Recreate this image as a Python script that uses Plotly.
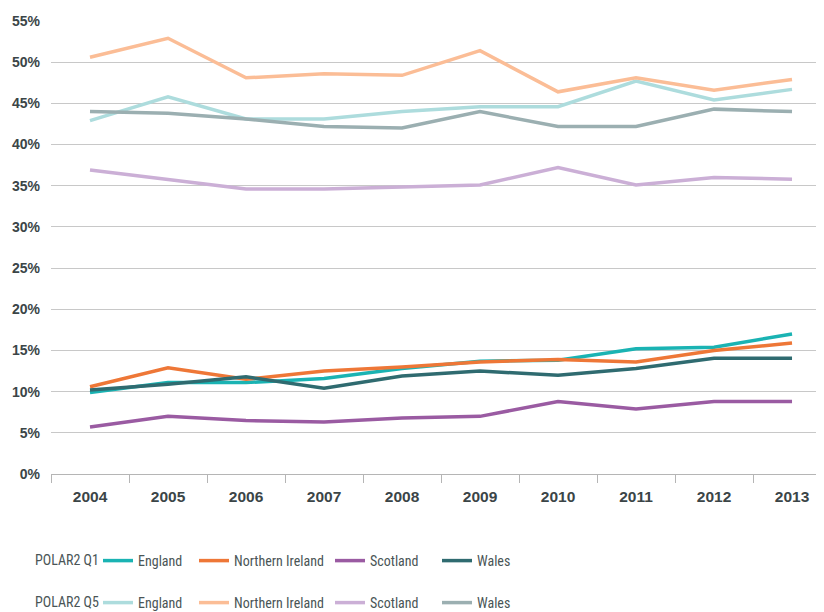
import plotly.graph_objects as go

years = ["2004", "2005", "2006", "2007", "2008", "2009", "2010", "2011", "2012", "2013"]

q1_england = [9.9, 11.1, 11.1, 11.6, 12.8, 13.7, 13.8, 15.2, 15.4, 17.0]
q1_ni = [10.6, 12.9, 11.5, 12.5, 13.0, 13.6, 13.9, 13.6, 15.0, 15.9]
q1_scotland = [5.7, 7.0, 6.5, 6.3, 6.8, 7.0, 8.8, 7.9, 8.8, 8.8]
q1_wales = [10.2, 10.9, 11.8, 10.4, 11.9, 12.5, 12.0, 12.8, 14.05, 14.05]

q5_england = [42.9, 45.8, 43.1, 43.1, 44.0, 44.6, 44.6, 47.7, 45.4, 46.7]
q5_ni = [50.6, 52.9, 48.1, 48.6, 48.4, 51.4, 46.4, 48.1, 46.6, 47.9]
q5_scotland = [36.9, 35.8, 34.6, 34.6, 34.9, 35.1, 37.2, 35.1, 36.0, 35.8]
q5_wales = [44.0, 43.8, 43.1, 42.2, 42.0, 44.0, 42.2, 42.2, 44.3, 44.0]

nations = ["England", "Northern Ireland", "Scotland", "Wales"]
q1_series = [q1_england, q1_ni, q1_scotland, q1_wales]
q5_series = [q5_england, q5_ni, q5_scotland, q5_wales]
q1_colors = ["#1AB3B3", "#EE7737", "#9A5BA2", "#2F6B70"]
q5_colors = ["#ADDCDD", "#FBBD96", "#CBAFD6", "#9BAFB1"]
item_widths = [51, 91, 62, 40]

y_ticks = [0, 5, 10, 15, 20, 25, 30, 35, 40, 45, 50, 55]
y_ticktext = [f"{v}%" for v in y_ticks]

fig = go.Figure()
for name, vals, col, w in zip(nations, q5_series, q5_colors, item_widths):
    fig.add_trace(go.Scatter(x=years, y=vals, name=name, mode="lines",
                             line=dict(color=col, width=3.5),
                             legend="legend2", legendwidth=w))
for name, vals, col, w in zip(nations, q1_series, q1_colors, item_widths):
    fig.add_trace(go.Scatter(x=years, y=vals, name=name, mode="lines",
                             line=dict(color=col, width=3.5),
                             legend="legend", legendwidth=w))

label_font = dict(family="Liberation Sans Narrow, Roboto Condensed, Arial Narrow, sans-serif",
                  size=14, color="#4A5556")
xtick_font = dict(family="Liberation Sans, Arial, sans-serif", size=15.5, color="#3B4547", weight="bold")
ytick_font = dict(family="Liberation Sans, Arial, sans-serif", size=14, color="#3B4547", weight="bold")

W, H = 816, 604
legend_common = dict(orientation="h", xref="container", yref="container",
                     xanchor="left", yanchor="middle", font=label_font,
                     bgcolor="rgba(0,0,0,0)", itemwidth=30, traceorder="normal")

fig.update_layout(
    width=W, height=H,
    margin=dict(l=43, r=0, t=13.3, b=137.5),
    paper_bgcolor="white", plot_bgcolor="white",
    xaxis=dict(type="category", range=[-0.5, 9.41], tickson="boundaries",
               ticks="outside", ticklen=8, tickcolor="#B5B5B5", tickwidth=1,
               showline=True, linecolor="#B5B5B5", linewidth=1,
               showgrid=False, tickfont=xtick_font, ticklabelstandoff=8,
               automargin=False, fixedrange=True),
    yaxis=dict(range=[0, 55], tickmode="array", tickvals=y_ticks, ticktext=y_ticktext,
               showgrid=True, gridcolor="#C8C8C8", gridwidth=1,
               zeroline=False, showline=False, tickfont=ytick_font,
               ticklabelstandoff=10, automargin=False, fixedrange=True),
    legend=dict(x=90 / W, y=1 - 553 / H, **legend_common),
    legend2=dict(x=90 / W, y=1 - 595 / H, **legend_common),
    annotations=[
        dict(text="POLAR2 Q1", xref="paper", yref="paper", x=-18 / 773, y=-(561 - 474.5) / 453.5,
             xanchor="left", yanchor="middle", showarrow=False, font=label_font),
        dict(text="POLAR2 Q5", xref="paper", yref="paper", x=-18 / 773, y=-(603 - 474.5) / 453.5,
             xanchor="left", yanchor="middle", showarrow=False, font=label_font),
    ],
    showlegend=True,
)

fig.write_html("out.html")
